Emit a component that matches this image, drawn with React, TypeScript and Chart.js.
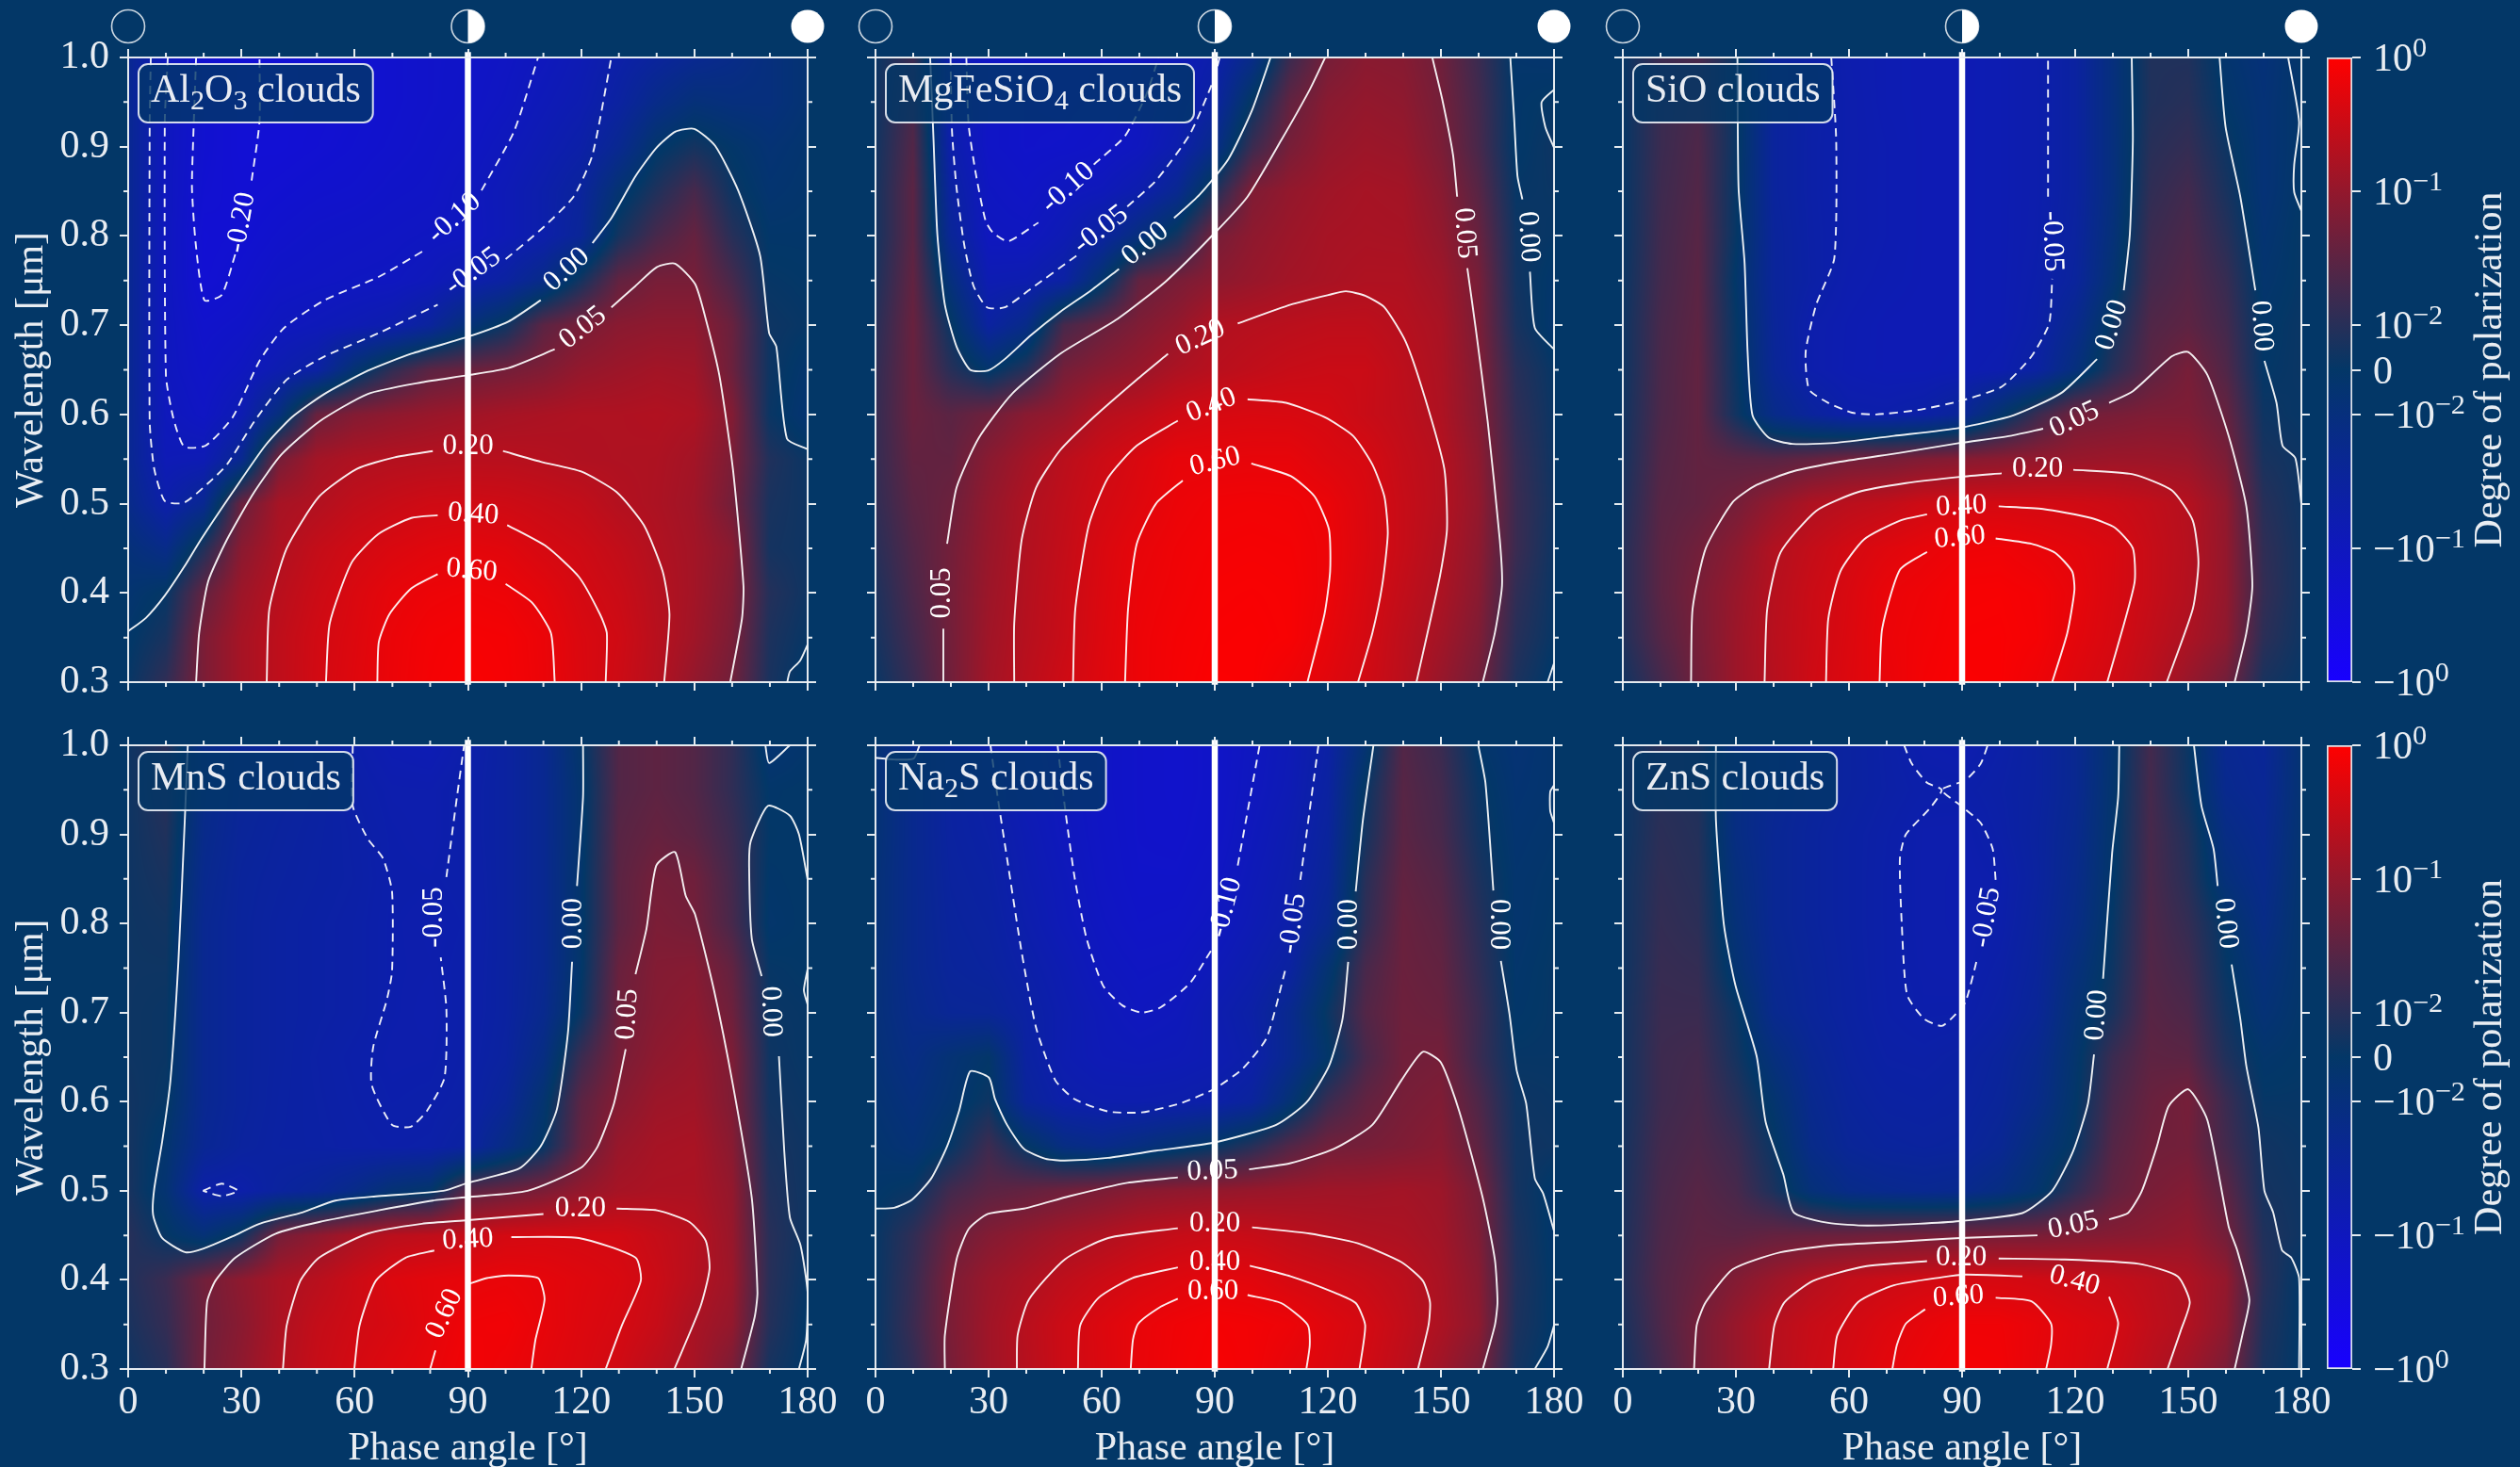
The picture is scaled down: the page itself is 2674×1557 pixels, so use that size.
import React, { useEffect, useRef } from "react";
import { Chart, registerables } from "chart.js";
Chart.register(...registerables);

const BG = "#033767";
const INK = "rgba(245,247,250,0.95)";
const SERIF = "'Liberation Serif', serif";

const phaseGrid = [0,10,20,30,40,50,60,70,80,90,100,110,120,130,140,150,160,170,180];
const waveGrid = [1.0,0.95,0.9,0.85,0.8,0.75,0.7,0.65,0.6,0.55,0.5,0.45,0.4,0.35,0.3];
const xTickValues = [0,30,60,90,120,150,180];
const yTickValues = [0.3,0.4,0.5,0.6,0.7,0.8,0.9,1.0];
const xMinorValues = [10,20,40,50,70,80,100,110,130,140,160,170];
const yMinorValues = [0.35,0.45,0.55,0.65,0.75,0.85,0.95];
const cbarValues = [1,0.1,0.01,0,-0.01,-0.1,-1];
const cbarLabels = ["10⁰","10⁻¹","10⁻²","0","−10⁻²","−10⁻¹","−10⁰"];
const moonPhases = [0,90,180];
const dayNightLine = [{x:90,y:0.297},{x:90,y:1.006}];

// Degree of polarization in percent, rows from 1.0 µm down to 0.3 µm
const al2o3Heat = [
[-2,-10,-19,-22,-22,-21,-19,-17,-15,-14,-12,-9.5,-7,-4.5,-3,-2,-1.5,-1,-.5],
[-2,-10,-18,-22,-22,-21,-19,-17,-15,-13.5,-11,-8,-6,-3.5,-1.5,-.8,-1,-1,-.5],
[-2,-10,-18,-22,-22,-20,-18,-16,-14,-12,-9,-6.5,-4.5,-2,-.2,.5,-.1,-.6,-.3],
[-2,-10,-19,-21,-19,-17,-16,-14,-13,-10,-7.5,-5,-3,-.5,.8,2,.3,-.4,-.2],
[-2,-10,-21,-19.5,-16,-14,-13,-12,-11,-10.5,-7.5,-5,-2.5,.5,2,3.8,1,-.1,-.1],
[-2,-10,-20.5,-17,-13,-12,-11,-10.5,-8.5,-5.5,-3.5,-1.5,.5,3.5,5.5,5.5,2,.1,0],
[-2,-10,-16,-14,-10,-8.5,-7,-5.5,-3,-.8,.3,3,5.5,8,9,9,4,.3,.1],
[-2,-10,-14,-10.5,-6,-3.8,-.5,1.2,3,4,5,6.5,10,12,14,13,4.3,.3,-.3],
[-2,-9,-12,-6.5,-1,4,7,9,11,13,15,16.5,18,18,19,17,7,.2,-.5],
[-2,-7.5,-7,-2,5.3,14,18,20,21,22,22,20.5,18.5,18,17.5,14,6,.8,.2],
[-1.5,-4.8,-2,4,15,19,26,31,36,37,35,31,27,20,17,13,5,.6,.3],
[-.8,-1.5,.8,8,18,28,37,45,52,56,52,41,35,27,19,14,8,.5,.3],
[-.4,.1,3.5,12,22,33,45,59,68,72,68,55,40,32,21,14,7,.9,.3],
[-.1,.6,6,15,25,37,48,65,78,83,80,65,45,36,22,13,6,.7,.1],
[.1,1.2,6,15,25,38,50,66,80,88,82,66,46,34,21,10,4.8,.6,-.2],
];
const mgfesio4Heat = [
[.2,1.5,-6,-13,-15,-16,-15,-12.5,-8,-5,-1.5,1.5,5.3,8,7.5,4.5,1.5,-.2,-.3],
[.3,2,-6,-13,-15,-15.5,-14.5,-11.5,-7,-3.5,.2,3.5,8,10,9,5.2,1.8,-.1,.1],
[.4,2.5,-5,-13,-15,-14.5,-13,-10,-5.5,-1.5,1.5,5.5,10,12,11,6,2,-.1,.3],
[.5,3,-3.5,-11,-13,-10,-8.5,-5.5,-2,.8,6.5,10,13,15,14,8,2.8,.1,.2],
[.5,3,-2.5,-10,-10.5,-7,-3.5,-1,.5,5.2,9,12,15,16,15.5,10,4,.3,.1],
[.7,3.5,-1,-6.5,-6,-3.8,-.3,3.5,5.6,8.5,11,14,16,18,18,13,5.5,.4,-.2],
[1,4,.2,-3.5,-1.5,2,3.8,6.5,10,19,21,23,25,25,21,16,6,.6,-.3],
[1.2,4,1,-.2,1,5.2,8,11,17,22,26,30,32,32,24,17,7,1,.1],
[1.3,4,3,4.5,8,11,21,26,36,42,44,43,40,31,25,18,7.5,1.2,.2],
[1.3,3.5,3.5,8,14,23,33,45,60,59,60,60,48,42,28,21,9,1.4,.3],
[1.2,3,4.3,10,18,26,38,50,66,74,76,74,65,45,30,21,10,1.5,.4],
[1,2.5,5,11,19,28,44,60,72,80,82,80,68,46,30,19,9,1.5,.3],
[.7,2.2,5.2,12,20,30,46,65,75,85,87,84,67,43,27,17,8,1.2,.2],
[.5,1.8,5,13,21,31,48,68,80,88,90,85,60,40,24,14,6.5,1,.1],
[.2,1.4,4.8,14,23,35,50,68,82,92,90,70,52,37,23,11,5,.7,-.2],
];
const sioHeat = [
[.1,1.5,2,.2,-3,-4.4,-5.6,-6.5,-7,-7,-6.5,-5.4,-3.5,-1,.8,.8,-.3,-.8,-.1],
[.1,1.5,2,.2,-3,-4.3,-5.4,-6.5,-7,-7,-6.5,-5.4,-3.5,-1,.8,1,-.1,-.7,-.1],
[.1,1.5,2.3,.2,-3,-4.4,-5.4,-6.2,-7,-7,-6.5,-5.4,-3.5,-1,1,1.3,.3,-.7,-.1],
[.1,1.6,2.5,.1,-3,-4.4,-5.5,-6.2,-7,-7,-6.5,-5.4,-3.5,-1,1.2,1.8,.6,-.7,0],
[.1,1.7,2.8,.1,-2.8,-4.3,-5.4,-6.2,-7,-7,-6.5,-5.3,-3.3,-.8,1.5,2.2,1,-.5,.1],
[.2,1.8,3,-.1,-2.8,-4.2,-5.8,-6.5,-7,-7,-6.5,-5,-3,-.5,1.8,2.6,1.4,-.3,.1],
[.3,2,3.2,.1,-2.6,-5.2,-6.3,-7,-7.2,-7,-6.5,-4.6,-1.8,.3,2.4,3.2,1.8,-.1,.2],
[.3,2.1,3.5,.2,-2.4,-5.2,-6.4,-7,-7,-6.5,-5.8,-3.5,-1,1,3,5.5,2.4,0,.2],
[.4,2.2,3.5,.4,-1.5,-3,-4.8,-5,-4.2,-2.5,-.3,1.5,4.8,5.5,6.5,6.5,3.8,.3,.1],
[.5,2.5,3.5,3,2.8,3.5,4.8,5.3,6.5,7.5,8.5,10,11,12,12,11,6,.6,.3],
[.7,2.8,3.5,5.2,10,18,23,27,36,39,40,39,37,33,27,20.5,9.5,1,.3],
[.9,3,4.8,8.5,19,28,39,50,60,70,72,62,54,45,30,21,10,1.2,.4],
[.9,3,5.8,11,21,32,44,64,72,84,85,78,60,44,30,20,10,1.3,.4],
[.8,2.6,5.5,12,22,33,46,66,76,87,88,80,56,42,27,17,9,1.1,.3],
[.4,1.8,5,12,21,35,48,62,80,90,88,70,50,37,23,11,5,.6,.1],
];
const mnsHeat = [
[.3,1,-1.5,-2.5,-3,-3.5,-5,-6.5,-7,-5,-3.5,-2,-.1,2.5,3.2,2.5,1.2,-.5,-.2],
[.3,1,-1.5,-2.5,-3,-3.5,-4.6,-5.5,-5.6,-4.6,-3.5,-2,-.3,2.5,3.2,2.5,1.2,-.1,0],
[.3,.8,-1.6,-2.7,-3.2,-3.7,-4.3,-5.2,-5.6,-4.6,-3.5,-2,-.3,2.8,3.8,3,1.5,0,-.1],
[.3,.6,-1.8,-2.9,-3.4,-3.8,-4.2,-5.1,-5.2,-4.8,-3.5,-2,-.2,3,5.2,4.6,1.8,-.1,0],
[.3,.4,-2,-3,-3.6,-4,-4.4,-5.2,-5.5,-5,-3.5,-2,-.2,3,6,5.2,2,-.2,0],
[.3,.3,-2,-3,-3.6,-4,-4.4,-5.2,-5.4,-4.8,-3.5,-2,-.1,4,7,7.5,3.5,.1,0],
[.3,.2,-2,-3,-3.6,-4,-4.4,-5.2,-5.6,-4.7,-3.5,-1.8,.2,4.6,7.5,9,4.5,.2,.1],
[.3,.2,-2,-3,-3.6,-4.2,-4.8,-5.4,-5.3,-4.5,-3.3,-1.2,1.5,5.5,9,11,6.3,.3,.1],
[.4,.1,-2,-3,-3.7,-4.1,-4.6,-5.1,-4.9,-4.3,-2.5,-.4,3,7.5,12,13,6.5,.4,.2],
[.5,-.3,-2.2,-3.2,-3.8,-4,-4.4,-4.7,-4.5,-3.5,-1.3,.1,3.8,11,15,16,8,.6,.3],
[.6,-.5,-4.5,-4.8,-3.2,-2.5,-1.5,-.6,-.2,3,4.2,6,10,15,17,17,10,.8,.3],
[1,.1,-.7,.4,5.2,9,16,23,26,30,39,41,40,38,29,22,11,1,.3],
[.8,1.5,4.8,9,16,22,33,48,55,60,63,58,50,44,33,21,12,1,.1],
[.6,1.3,4.5,8,17,28,36,43,55,72,75,60,48,41,30,16,10,.9,-.1],
[.3,1,4.9,9,19,30,40,50,60,78,68,55,46,36,23,15,6,.5,-.1],
];
const na2sHeat = [
[-.6,-1.8,-3.5,-5,-8,-10.5,-13,-15,-16,-14,-10.5,-7.5,-4,-.5,2.5,1.5,-.1,-.6,-.3],
[-.6,-1.8,-3.5,-4.5,-7.5,-10,-13,-15,-16,-14,-10,-7,-3.5,.2,2.8,1.8,.2,-.5,-.3],
[-.6,-1.8,-3.4,-4.2,-6.5,-9.5,-12.5,-15,-15.5,-13.5,-9,-6,-3,.5,3,2,.4,-.4,-.2],
[-.7,-1.8,-3.2,-3.8,-6,-8.5,-12,-14.5,-14.5,-12,-8,-5.4,-2.5,1,3.5,2.5,.7,-.3,-.1],
[-.7,-1.8,-3,-3.5,-5.3,-8,-11,-13.5,-13,-10.5,-7,-4.8,-1.8,1.2,4,3,1,-.3,0],
[-.8,-1.8,-2.8,-3.2,-4.5,-6.5,-9.8,-11.5,-11,-8,-5.5,-3.5,-.5,2,4.2,3.5,1.2,-.2,.1],
[-.8,-1.6,-2.4,-2.5,-3.8,-5.8,-8,-10.2,-9,-6,-4.2,-1.8,.2,2.5,4.5,4,1.5,-.1,.1],
[-.7,-1.3,-.6,-.1,-3.5,-6,-7.5,-8,-7.5,-6.5,-4.8,-1.8,-.1,2,4.8,5.2,1.5,.1,.1],
[-.5,-1,-.4,.3,-2.8,-4.8,-5.5,-5.5,-5.2,-4.5,-3,-.6,1.5,3.5,5.5,6.5,2.3,.3,.2],
[-.3,-.7,.1,1.6,.1,-1.2,-1.6,-1.1,-.5,.1,1,2.5,4.8,5.4,6.5,8,3.2,.4,.3],
[-.1,.2,1.8,3,3.6,4.6,6,8,9,10,11,12,13,13,14,12,5.4,.5,-.2],
[.1,1.2,4,7,10,14,18,24,29,32,30,25,21,18.5,17,13.5,6.5,.7,-.2],
[.1,1.4,6,11.5,17,25,33,42,50,56,53,41,36,30,24,16,8,.8,-.1],
[.1,1.5,6,13,22,34,47,61,72,80,76,68,50,40,27,17,9,.7,-.1],
[.1,1.2,5.5,13,21,34,46,62,74,85,76,58,47,37,24,13,5.8,.5,-.3],
];
const znsHeat = [
[.1,1,.8,-1.2,-2,-2.8,-3.4,-4.3,-5.5,-6,-4.6,-3.4,-2,-.4,1.8,.2,-2,-2.5,-.5],
[.2,1,.8,-1.2,-2,-2.8,-3.4,-4.2,-4.9,-4.9,-4.2,-3.4,-2,-.3,1.9,.3,-1.8,-2.3,-.5],
[.2,1.1,.9,-1.2,-2.2,-3,-3.8,-4.6,-5.5,-5.6,-4.5,-3.2,-1.8,-.2,2,.8,-1.3,-2,-.4],
[.3,1.2,1,-1,-2.2,-3,-3.8,-4.7,-5.5,-5.7,-5.2,-3.3,-1.6,-.1,2.1,1,-.9,-1.7,-.3],
[.3,1.3,1.1,-.8,-2.2,-3,-3.8,-4.7,-5.5,-5.7,-5,-3,-1.4,.1,2.3,1.3,-.1,-1.4,-.2],
[.3,1.4,1.3,-.5,-2,-2.8,-3.7,-4.7,-5.4,-5.6,-4.4,-2.8,-1,.3,2.5,1.7,.1,-1,-.2],
[.4,1.5,1.5,.2,-1.8,-2.7,-3.6,-4.6,-5.2,-5.1,-3.9,-2.5,-.6,.6,2.8,2.2,.4,-.7,-.1],
[.4,1.6,1.8,.5,-1,-2.2,-3.3,-4.2,-4.4,-3.9,-3,-1.8,-.3,1.5,3.2,3,.8,-.2,0],
[.4,1.6,2,1,-.3,-1.8,-2.9,-3.6,-3.8,-3.5,-2.7,-1.5,-.1,2,4,5.3,1.5,.1,.1],
[.5,1.8,2.3,1.5,.2,-1.5,-2.5,-3,-3.2,-3,-2.2,-.9,.2,2.6,4.7,5,1.8,.4,.2],
[.6,2,2.8,2,.7,-.8,-1.5,-1.8,-2,-1.8,-1.2,-.3,1.2,3.4,5.6,7,3,.5,.3],
[.7,2.2,3.2,3,3.7,4,4.3,4.8,5.2,5.2,5.5,5.7,6.5,7.5,8.5,10,5,.8,.3],
[.8,2.4,4,7,12,20,28,33,38,41,41,38,33,29,24,18,10,1,-.1],
[.6,2.2,5.2,11,21,30,37,48,60,72,72,60,49,41,26,19,9,.8,-.1],
[.4,1.8,5.2,11,21,32,41,56,68,80,76,58,48,36,22,13,6,.6,-.1],
];

// Contours: [level, flat x,y list; null breaks the line where a label sits]
const al2o3Contours: any[] = [
[0,[0,.357,4.7,.372,9.7,.397,14.8,.429,19.3,.46,27.7,.513,36.3,.565,43.4,.597,52,.623,63.5,.649,75,.668,90,.687,100.7,.704,109.3,.728,null,123,.792,128,.82,134.4,.867,140,.899,145,.917,150,.92,155.5,.901,161.6,.851,167.4,.778,169.8,.691,171.7,.676,174.5,.573,180,.561]],
[0,[174.6,.3,175.3,.312,178,.324,180,.342]],
[.05,[18,.3,18.8,.355,21.2,.413,26.2,.46,33.4,.513,40.6,.555,50.6,.592,63.5,.623,77.8,.636,90,.644,100.7,.652,113,.673,null,128,.72,134.4,.744,140,.765,144.9,.769,150.2,.746,153,.707,156.6,.644,160.2,.539,163,.408,162.6,.371,159.5,.3]],
[.2,[36.7,.3,37.4,.382,42,.45,50.6,.508,60.6,.539,70.6,.552,80.7,.559,null,99.3,.559,109.3,.547,120,.536,129.4,.513,136.6,.476,141.6,.424,143.4,.376,142,.3]],
[.4,[52.4,.3,53.4,.366,59.2,.434,66.3,.466,75,.484,82,.487,null,100.4,.476,110.8,.452,119.4,.418,125,.376,126.8,.355,126.5,.3]],
[.6,[66,.3,66.4,.345,69.2,.376,75,.405,82,.421,null,100,.41,107,.389,112,.355,113,.3]],
[-.05,[6,1,5.7,.928,5.7,.592,6.9,.539,9.7,.503,14.8,.501,21.2,.523,26.2,.544,33.4,.592,42,.639,52,.665,66.3,.691,82,.723,null,100,.774,109.3,.807,118,.844,123,.891,128,1]],
[-.1,[10.5,1,9.7,.928,10,.644,11.9,.597,14.8,.564,20.5,.565,27.7,.597,34.8,.66,41.3,.697,52,.728,66.3,.754,78.5,.784,null,93.6,.851,102.2,.917,108.6,1]],
[-.2,[18,1,17.3,.917,16.9,.854,17.9,.791,20.2,.728,24.8,.734,28.4,.78,null,32.7,.862,34.8,.928,34.8,1]],
];
const al2o3Labels: any[] = [["0.00",116.2,.762,-42],["0.05",120.5,.697,-38],["0.20",90,.564,0],["0.40",91.4,.488,4],["0.60",91,.425,5],["-0.05",91.4,.76,-36],["-0.10",86.4,.82,-42],["-0.20",30,.815,-80]];

const mgfesio4Contours: any[] = [
[0,[14.5,1,15.4,.907,16.4,.802,18.4,.723,21.5,.676,25.1,.65,29.8,.649,34.3,.662,41.3,.689,49,.715,57.2,.739,64.6,.763,null,79.2,.82,85.9,.846,93.6,.886,99.9,.941,104.8,1]],
[-.05,[19.9,1,20.3,.917,21.5,.854,23.5,.791,26,.744,29.6,.72,34.3,.72,41.3,.741,53.4,.778,null,66.8,.833,74.4,.862,83.4,.914,89.7,.975,91.3,1]],
[-.1,[24.1,1,24.7,.925,26.6,.87,29.2,.817,31.1,.804,35.2,.794,43.2,.815,null,57.9,.88,66.2,.912,71.9,.959,75.1,1]],
[.05,[18,.3,18,.36,null,19,.455,21.5,.518,27.3,.573,36.2,.623,49,.668,64.2,.707,77,.749,89.7,.802,98.7,.844,107.6,.907,115.2,.964,119.3,1]],
[.05,[147.7,1,150.3,.954,153.2,.891,154.3,.844,null,157,.764,159.2,.697,162.4,.592,165.6,.46,166.2,.408,164.3,.355,161.1,.3]],
[0,[168.4,1,169.4,.933,170.3,.867,171.6,.841,null,173.6,.76,174.9,.697,180,.673]],
[0,[180,.964,176.7,.95,177.7,.922,180,.899]],
[0,[178.3,.3,180,.321]],
[.2,[36.8,.3,36.8,.366,38.8,.46,42.6,.518,49,.56,57.9,.597,69.3,.639,77.6,.668,null,96.1,.702,110.1,.723,120.3,.734,124.8,.738,129.9,.733,135,.72,140.7,.681,145.8,.618,150.9,.539,151.6,.471,149.7,.418,143.5,.3]],
[.4,[52.4,.3,53,.382,56.6,.476,61.7,.529,69.3,.565,80.2,.593,null,98.7,.617,108.9,.613,119.1,.597,126.7,.576,131.8,.544,135,.508,135.9,.466,134.4,.408,131.8,.355,128,.3]],
[.6,[66.2,.3,67,.382,69.3,.455,74.4,.5,81.5,.526,null,99.7,.545,110.1,.531,116.5,.508,120.3,.471,120.6,.424,119.1,.376,114.6,.3]],
];
const mgfesio4Labels: any[] = [["0.00",71.6,.791,-40],["-0.05",59.8,.807,-38],["-0.10",51.1,.854,-42],["0.05",17.7,.4,-90],["0.05",156.3,.803,86],["0.00",173.2,.799,87],["0.20",86.2,.686,-25],["0.40",89.1,.61,-22],["0.60",90.1,.547,-14]];

const sioContours: any[] = [
[0,[30.4,1,30.7,.854,32.3,.77,33.1,.67,34.4,.599,38.7,.574,45,.567,56.1,.568,71.9,.576,89.4,.585,103.6,.599,116.3,.624,125.8,.662,null,132.9,.739,134.5,.802,135.3,.907,135,1]],
[-.05,[55.3,1,56.6,.907,56.1,.775,51.3,.723,48.5,.67,49.4,.628,54.5,.613,60.8,.602,67.2,.6,78.3,.605,89.4,.615,100.5,.631,108.4,.665,113.1,.702,113.9,.752,null,112.8,.844,112.8,1]],
[0,[158.3,1,159.9,.922,163.8,.844,167.8,.739,null,170.2,.66,173.4,.613,175,.565,178.4,.551,180,.5]],
[0,[176.5,1,179.4,.928,178.1,.88,178.1,.849,180,.828]],
[.05,[18.1,.3,18.5,.382,22,.45,29.2,.502,35.5,.521,45,.536,57.7,.547,73.5,.557,89.4,.568,102.8,.576,111.5,.584,null,129,.613,135.3,.626,145.6,.665,150,.67,155.1,.644,160.7,.576,165.4,.497,167,.408,165.4,.355,162.3,.3]],
[.2,[37.6,.3,38.3,.382,41.8,.445,51.3,.492,62.4,.513,75.1,.523,89.4,.53,100.5,.534,null,119.5,.538,135.3,.533,145.6,.515,151.2,.481,152.7,.434,151.2,.382,144.3,.3]],
[.4,[53.9,.3,54.5,.371,57.7,.424,64,.46,73.5,.481,80.7,.488,null,99.7,.497,111.5,.494,124.2,.484,130.6,.473,135.3,.45,135.8,.413,133,.366,128.5,.3]],
[.6,[68.1,.3,68.8,.36,73.5,.426,80.7,.446,null,98.9,.461,108.4,.455,114.7,.445,119.2,.424,119.8,.403,117.9,.355,113.9,.3]],
];
const sioLabels: any[] = [["0.00",129.8,.7,-72],["-0.05",113.9,.794,88],["0.00",169.4,.699,86],["0.05",119.8,.594,-25],["0.20",110,.539,0],["0.40",89.8,.497,-3],["0.60",89.4,.462,-5]];

const mnsContours: any[] = [
[0,[15.8,1,15,.916,13.3,.757,11.2,.624,9,.555,6.9,.502,6.6,.473,9,.447,15.2,.431,19.8,.435,27.7,.449,34.8,.463,46.3,.476,54.9,.489,66.3,.494,83.5,.5,90,.509,103.6,.525,109.3,.55,113.6,.592,116.5,.677,117.6,.757,null,118.9,.842,120.5,.942,120.5,1]],
[-.05,[59.5,1,59.5,.932,63.5,.895,67.5,.873,69.9,.836,69.9,.746,68.5,.714,64.9,.661,64.5,.619,69.9,.574,74.9,.572,79.2,.59,83.8,.627,84.3,.704,82.8,.762,null,84.3,.852,87.1,.942,89,1]],
[-.05,[19.8,.5,24.8,.508,29.1,.5,24.8,.494,19.8,.5]],
[.05,[20.2,.3,20.9,.375,23.1,.399,28.4,.425,39.1,.452,50.6,.465,66.3,.478,80.7,.489,90,.493,105.8,.5,120,.526,124.4,.55,128.7,.598,131.8,.659,null,134.4,.743,137.3,.794,139.9,.865,144.9,.88,147.7,.831,150.2,.81,155.2,.725,160.2,.619,165.2,.492,166.7,.386,166,.359,162.4,.3]],
[.2,[41,.3,42,.349,45.6,.399,50.6,.425,63.5,.452,77.8,.463,90,.467,110,.474,null,129.4,.48,140.1,.478,148.7,.465,153,.444,154,.412,151.6,.37,144.7,.3]],
[.4,[59.9,.3,61.3,.349,65.6,.399,73.5,.425,81.1,.433,null,101.5,.448,119.4,.447,134.4,.425,135.8,.399,130.8,.349,126.5,.3]],
[.6,[80,.3,81.4,.321,null,90,.395,95,.402,100.7,.405,108.6,.402,110.3,.378,107.9,.333,106.8,.3]],
[0,[177.7,.3,179.6,.333,180,.386,178.1,.439,175.3,.47,173.8,.545,172.4,.651,null,167.8,.741,165.2,.783,164.5,.863,164.9,.892,169.5,.932,175.3,.921,177.7,.9,180,.849]],
[0,[168.8,1,169.8,.98,175.3,1]],
[0,[180,.749,179,.725,180,.709]],
];
const mnsLabels: any[] = [["0.00",118,.8,-90],["-0.05",81.1,.807,-90],["0.05",132.3,.698,-86],["0.20",119.8,.48,0],["0.40",90,.445,-3],["0.60",83.8,.362,-65],["0.00",170.2,.701,88]];

const na2sContours: any[] = [
[0,[0,.48,5,.481,9.7,.49,14.8,.514,19,.55,22.2,.59,25.1,.634,30.1,.627,31.7,.603,34.9,.574,39.4,.547,45.1,.536,50.2,.534,61.7,.537,74.4,.545,89.7,.554,106.3,.574,114.3,.599,120.3,.64,123.9,.693,125.4,.757,null,127.4,.836,129.3,.916,132.1,1]],
[0,[0,.986,5,.984,10.1,.985,11.7,1]],
[-.05,[30.5,1,32.4,.942,34.9,.873,38.8,.767,42.6,.683,47.7,.624,52.8,.603,61.7,.589,70.6,.588,80.8,.598,89.7,.614,97.4,.637,103.8,.672,108.9,.751,null,112.7,.849,117.5,1]],
[-.1,[48.3,1,50.2,.932,52.8,.852,56,.783,60.4,.73,65.5,.708,70.6,.7,75.7,.706,83.4,.733,89.1,.77,null,96.1,.865,101.9,1]],
[.05,[18.4,.3,18.4,.338,21.5,.423,24.7,.457,29.8,.474,39.4,.48,51.5,.494,66.8,.509,80.2,.515,null,99.1,.524,110.1,.531,121.6,.547,131.8,.574,139.5,.624,145.2,.656,150,.644,154.8,.59,161.1,.492,164.3,.423,165,.375,164.3,.349,161.1,.3]],
[.2,[37.5,.3,37.7,.338,40.7,.378,50.2,.423,61.7,.447,80.2,.458,null,99.9,.459,115.2,.452,128,.441,139.5,.42,145.2,.399,147.1,.375,146.7,.349,143.9,.3]],
[.4,[53.7,.3,54.3,.349,59.2,.38,68.1,.402,80.2,.414,null,99.3,.416,110.1,.404,121.6,.386,127.4,.374,129.9,.349,128.4,.3]],
[.6,[67.7,.3,68.3,.333,69.7,.351,75.7,.37,80.2,.379,null,98.7,.383,107.6,.374,114.6,.35,115.2,.327,114.3,.3]],
[0,[159.9,1,161.8,.958,163.9,.837,null,165.9,.758,168.2,.698,170.1,.635,172.6,.598,174.9,.514,177.1,.497,180,.455]],
[0,[180,.955,179,.948,179,.926,180,.913]],
[0,[174.9,.3,178.3,.325,180,.349]],
];
const na2sLabels: any[] = [["0.00",125.7,.799,-90],["-0.05",110.8,.8,-82],["-0.10",92.9,.818,-75],["0.05",89.4,.522,-2],["0.20",90,.463,0],["0.40",90,.42,0],["0.60",89.5,.387,0],["0.00",165.2,.799,90]];

const znsContours: any[] = [
[0,[24.7,1,24.7,.916,26.8,.799,29.9,.73,35.5,.651,37.9,.577,42.6,.518,45.3,.476,54.5,.464,64.8,.461,78.3,.463,89.4,.466,106,.475,113.9,.5,119.5,.545,123.4,.598,125,.653,null,127.4,.738,129.8,.879,131.4,.942,131.7,1]],
[-.05,[74.6,1,76.7,.979,80.7,.958,84.6,.95,81.4,.929,75.1,.9,73.5,.873,74,.799,75.4,.72,79.9,.693,84.6,.685,87.8,.696,90.9,.712,94.1,.762,null,98.9,.849,98.1,.884,94.9,.913,89.7,.932,84.6,.95,90.9,.961,94.9,.979,96.8,1]],
[0,[151.5,1,153.5,.932,156.7,.884,157.8,.842,null,161.5,.754,163.8,.693,165.4,.64,168.6,.571,170.2,.5,172.5,.476,174.9,.433,177.3,.425,179.4,.402,179.4,.3]],
[.05,[18.9,.3,19.6,.349,22,.375,29.2,.412,41.8,.431,56.1,.439,73.5,.443,89.4,.447,110,.45,null,129,.468,134,.475,137.7,.5,141.7,.55,144.8,.595,150,.614,155.1,.579,160.7,.46,163,.433,166.2,.378,164.6,.343,162.3,.3]],
[.2,[38.8,.3,40.2,.349,42.9,.375,50.5,.399,64,.415,80.7,.421,null,99.7,.424,116.3,.423,136.9,.418,147.2,.404,150.4,.375,148,.343,144.5,.3]],
[.4,[55.8,.3,56.9,.338,62.4,.375,71.9,.394,84.6,.403,90.9,.406,106,.404,null,129,.381,131.4,.351,128.5,.3]],
[.6,[71.5,.3,72.7,.327,75.1,.351,80.2,.367,null,98.9,.38,108.4,.376,113.6,.351,113.6,.327,112.3,.3]],
];
const znsLabels: any[] = [["0.00",125.8,.697,-85],["-0.05",96.5,.807,-80],["0.00",159.9,.8,84],["0.05",119.5,.461,-12],["0.20",89.8,.425,0],["0.40",119.8,.399,15],["0.60",89,.381,-4]];

const AXIS_W = 136, RIGHT_W = 40, TOP_H = 61, FONT = 42;

const panels: any[] = [
 {name:"Al₂O₃ clouds",heat:al2o3Heat,contours:al2o3Contours,labels:al2o3Labels,x0:136,w:721,row:0,col:0},
 {name:"MgFeSiO₄ clouds",heat:mgfesio4Heat,contours:mgfesio4Contours,labels:mgfesio4Labels,x0:929,w:720,row:0,col:1},
 {name:"SiO clouds",heat:sioHeat,contours:sioContours,labels:sioLabels,x0:1722,w:720,row:0,col:2},
 {name:"MnS clouds",heat:mnsHeat,contours:mnsContours,labels:mnsLabels,x0:136,w:721,row:1,col:0},
 {name:"Na₂S clouds",heat:na2sHeat,contours:na2sContours,labels:na2sLabels,x0:929,w:720,row:1,col:1},
 {name:"ZnS clouds",heat:znsHeat,contours:znsContours,labels:znsLabels,x0:1722,w:720,row:1,col:2},
];
const rows = [{top:61,h:663,bottom:60},{top:791,h:662,bottom:104}];

const LIN = 95/666;
function norm(v:number){ const a=Math.abs(v); const r=a<=0.01? a/0.01*LIN : LIN+(1-LIN)*Math.log10(a/0.01)/2; return Math.sign(v)*Math.min(r,1); }
const C0=[3,55,103], CR=[255,0,0], CB=[24,0,255];
function colorAt(t:number){ const e=t>=0?CR:CB; const k=Math.abs(t); return [0,1,2].map(i=>C0[i]+(e[i]-C0[i])*k); }

const SUP:any={"⁰":"0","¹":"1","²":"2","⁻":"−"};
const SUB:any={"₂":"2","₃":"3","₄":"4"};
function runs(s:string){ const out:any[]=[]; for(const ch of s){ const kind=SUP[ch]?1:SUB[ch]?-1:0; const c=SUP[ch]||SUB[ch]||ch; const last=out[out.length-1]; if(last&&last.kind===kind) last.t+=c; else out.push({t:c,kind}); } return out; }
function richWidth(ctx:any,s:string,size:number){ let w=0; for(const r of runs(s)){ ctx.font=`${r.kind?size*0.72:size}px ${SERIF}`; w+=ctx.measureText(r.t).width; } return w; }
function drawRich(ctx:any,s:string,x:number,y:number,size:number){ ctx.textAlign="left"; ctx.textBaseline="alphabetic"; let cx=x; for(const r of runs(s)){ ctx.font=`${r.kind?size*0.72:size}px ${SERIF}`; ctx.fillText(r.t,cx,y-(r.kind===1?size*0.36:r.kind===-1?-size*0.2:0)); cx+=ctx.measureText(r.t).width; } }

function heatPlugin(heat:number[][]){
 const tg=heat.map(r=>r.map(v=>norm(v/100)));
 return { id:"heatCells", beforeDatasetsDraw(chart:any){
  const {left,top,width,height}=chart.chartArea; const xs=chart.scales.x, ys=chart.scales.y;
  const W=Math.round(width),H=Math.round(height);
  const off=document.createElement("canvas"); off.width=W; off.height=H; const octx=off.getContext("2d")!; const img=octx.createImageData(W,H);
  const dp=phaseGrid[1]-phaseGrid[0], dw=waveGrid[0]-waveGrid[1];
  for(let j=0;j<H;j++){ const w=ys.getValueForPixel(top+j+0.5); let fy=(waveGrid[0]-w)/dw; fy=Math.max(0,Math.min(waveGrid.length-1.0001,fy)); const r=Math.floor(fy), ay=fy-r;
   for(let i=0;i<W;i++){ const p=xs.getValueForPixel(left+i+0.5); let fx=(p-phaseGrid[0])/dp; fx=Math.max(0,Math.min(phaseGrid.length-1.0001,fx)); const c=Math.floor(fx), ax=fx-c;
    const t=(tg[r][c]*(1-ax)+tg[r][c+1]*ax)*(1-ay)+(tg[r+1][c]*(1-ax)+tg[r+1][c+1]*ax)*ay;
    const col=colorAt(t); const o=(j*W+i)*4; img.data[o]=col[0]; img.data[o+1]=col[1]; img.data[o+2]=col[2]; img.data[o+3]=255; } }
  octx.putImageData(img,0,0); chart.ctx.drawImage(off,left,top);
 }};
}

function overlayPlugin(p:any){
 return { id:"panelOverlay", afterDatasetsDraw(chart:any){
  const ctx=chart.ctx, xs=chart.scales.x, ys=chart.scales.y, a=chart.chartArea;
  ctx.save(); ctx.fillStyle="#ffffff"; ctx.font=`31px ${SERIF}`; ctx.textAlign="center"; ctx.textBaseline="middle";
  for(const [txt,x,y,rot] of p.labels){ ctx.save(); ctx.translate(xs.getPixelForValue(x),ys.getPixelForValue(y)); ctx.rotate(rot*Math.PI/180); ctx.fillText(txt,0,0); ctx.restore(); }
  // legend box
  const w=richWidth(ctx,p.name,FONT)+26, bx=a.left+11, by=a.top+7, bh=62;
  ctx.beginPath(); ctx.roundRect(bx,by,w,bh,10); ctx.fillStyle="rgba(3,55,103,0.8)"; ctx.fill(); ctx.lineWidth=2; ctx.strokeStyle="rgba(235,240,245,0.9)"; ctx.stroke();
  ctx.fillStyle=INK; drawRich(ctx,p.name,bx+13,by+40,FONT);
  ctx.restore();
 }, afterDraw(chart:any){
  const ctx=chart.ctx, xs=chart.scales.x, ys=chart.scales.y, a=chart.chartArea;
  ctx.save(); ctx.strokeStyle="rgba(240,243,247,0.95)"; ctx.lineWidth=2; ctx.beginPath();
  for(const v of xMinorValues){ const x=xs.getPixelForValue(v); ctx.moveTo(x,a.top); ctx.lineTo(x,a.top-5); ctx.moveTo(x,a.bottom); ctx.lineTo(x,a.bottom+5); }
  for(const v of yMinorValues){ const y=ys.getPixelForValue(v); ctx.moveTo(a.left,y); ctx.lineTo(a.left-5,y); ctx.moveTo(a.right,y); ctx.lineTo(a.right+5,y); }
  ctx.stroke();
  if(p.row===0){ const cy=a.top-33, R=17.5; ctx.lineWidth=1.6; ctx.strokeStyle="rgba(235,240,245,0.85)"; ctx.fillStyle="#fff";
   moonPhases.forEach((ph:number)=>{ const cx=xs.getPixelForValue(ph); ctx.beginPath(); ctx.arc(cx,cy,R,0,Math.PI*2); if(ph===180){ctx.fill();} else ctx.stroke();
    if(ph===90){ ctx.beginPath(); ctx.arc(cx,cy,R,-Math.PI/2,Math.PI/2); ctx.closePath(); ctx.fill(); } }); }
  ctx.restore();
 }};
}

function parseLine(flat:any[]){ const out:any[]=[]; for(let i=0;i<flat.length;){ if(flat[i]===null){ out.push({x:NaN,y:NaN}); i++; } else { out.push({x:flat[i],y:flat[i+1]}); i+=2; } } return out; }

function panelConfig(p:any){
 const row=rows[p.row]; const isLeft=p.col===0, isBottom=p.row===1;
 const side={ grid:{drawOnChartArea:false,drawTicks:true,tickLength:9,color:"rgba(240,243,247,0.95)",lineWidth:2,z:1}, border:{display:true,color:"rgba(240,243,247,0.95)",width:2,z:1} };
 const setX=(s:any)=>{s.ticks=xTickValues.map(v=>({value:v}));};
 const setY=(s:any)=>{s.ticks=yTickValues.map(v=>({value:v}));};
 const datasets:any[]=p.contours.map(([lv,flat]:any)=>({ label:`P=${lv}`, data:parseLine(flat), showLine:true, pointRadius:0, borderColor:"rgba(255,255,255,0.92)", borderWidth:1.9, borderDash:lv<0?[9,6]:[], tension:0.2, spanGaps:false, borderJoinStyle:"round", fill:false }));
 datasets.push({ label:"90°", data:dayNightLine, showLine:true, pointRadius:0, borderColor:"#ffffff", borderWidth:6.5, clip:false });
 return { type:"scatter", data:{datasets}, plugins:[heatPlugin(p.heat),overlayPlugin(p)], options:{
  animation:false, responsive:false, events:[], layout:{padding:0},
  plugins:{legend:{display:false},tooltip:{enabled:false}},
  scales:{
   x:{type:"linear",position:"bottom",min:0,max:180,afterBuildTicks:setX,afterFit:(s:any)=>{s.height=row.bottom;},...side,
      ticks:{display:isBottom,autoSkip:false,maxRotation:0,color:INK,padding:2,font:{family:SERIF,size:FONT},callback:(v:number)=>String(v)},
      title:{display:isBottom,text:"Phase angle [°]",color:INK,font:{family:SERIF,size:FONT},padding:{top:0,bottom:-6}}},
   x2:{type:"linear",position:"top",min:0,max:180,afterBuildTicks:setX,afterFit:(s:any)=>{s.height=TOP_H;},...side,ticks:{display:false}},
   y:{type:"linear",position:"left",min:0.3,max:1,afterBuildTicks:setY,afterFit:(s:any)=>{s.width=AXIS_W;},...side,
      ticks:{display:isLeft,autoSkip:false,color:INK,padding:11,font:{family:SERIF,size:FONT},callback:(v:number)=>v.toFixed(1)},
      title:{display:isLeft,text:"Wavelength [μm]",color:INK,font:{family:SERIF,size:FONT},padding:{top:9,bottom:0}}},
   y2:{type:"linear",position:"right",min:0.3,max:1,afterBuildTicks:setY,afterFit:(s:any)=>{s.width=RIGHT_W;},...side,ticks:{display:false}},
  }}};
}

function cbarConfig(rowIdx:number){
 const row=rows[rowIdx];
 return { type:"bar", data:{labels:["P"],datasets:[{ data:[[-1,1]], barPercentage:1, categoryPercentage:1, borderWidth:2, borderSkipped:false, borderColor:"rgba(235,238,242,0.95)",
   backgroundColor:(c:any)=>{ const a=c.chart.chartArea; if(!a) return "#800"; const g=c.chart.ctx.createLinearGradient(0,a.bottom,0,a.top); const f=(x:number[])=>`rgb(${x[0]},${x[1]},${x[2]})`; g.addColorStop(0,f(CB)); g.addColorStop(0.5,f(C0)); g.addColorStop(1,f(CR)); return g; } }]},
  plugins:[{ id:"cbarText", afterDraw(chart:any){ const ctx=chart.ctx, a=chart.chartArea, y=chart.scales.y; ctx.save(); ctx.fillStyle=INK;
    y.ticks.forEach((t:any)=>{ drawRich(ctx,t.label,a.right+22,y.getPixelForValue(t.value)+14,FONT); });
    ctx.translate(203,(a.top+a.bottom)/2); ctx.rotate(-Math.PI/2); ctx.font=`${FONT}px ${SERIF}`; ctx.textAlign="center"; ctx.textBaseline="middle"; ctx.fillText(y.options.title.text,0,0); ctx.restore(); } }],
  options:{ animation:false, responsive:false, events:[], layout:{padding:{left:29,top:TOP_H,bottom:row.bottom}},
   plugins:{legend:{display:false},tooltip:{enabled:false}},
   scales:{ x:{display:false,type:"category"},
    y:{position:"right",min:-1,max:1,afterBuildTicks:(s:any)=>{s.ticks=cbarValues.map(v=>({value:norm(v)}));},afterFit:(s:any)=>{s.width=178;},
     grid:{drawOnChartArea:false,tickLength:9,color:"rgba(240,243,247,0.95)",lineWidth:2},border:{display:false},
     ticks:{color:"rgba(0,0,0,0)",autoSkip:false,font:{family:SERIF,size:FONT},callback:(_:number,i:number)=>cbarLabels[i]},
     title:{display:true,text:"Degree of polarization",color:"rgba(0,0,0,0)",font:{family:SERIF,size:FONT}} } } } };
}

function Canvas({config,left,top,width,height}:any){
 const ref=useRef<HTMLCanvasElement>(null);
 useEffect(()=>{ const c=new Chart(ref.current!,config()); return ()=>c.destroy(); },[]);
 return <canvas ref={ref} width={width} height={height} style={{position:"absolute",left,top,width,height}}/>;
}

export default function App(){
 return <div style={{position:"absolute",left:0,top:0,width:2674,height:1557,background:BG,overflow:"hidden"}}>
  {panels.map((p,i)=>{ const r=rows[p.row]; return <Canvas key={i} config={()=>panelConfig(p)} left={p.x0-AXIS_W} top={r.top-TOP_H} width={AXIS_W+p.w+RIGHT_W} height={TOP_H+r.h+r.bottom}/>; })}
  {rows.map((r,i)=><Canvas key={"c"+i} config={()=>cbarConfig(i)} left={2440} top={r.top-TOP_H} width={234} height={TOP_H+r.h+r.bottom}/>)}
 </div>;
}
